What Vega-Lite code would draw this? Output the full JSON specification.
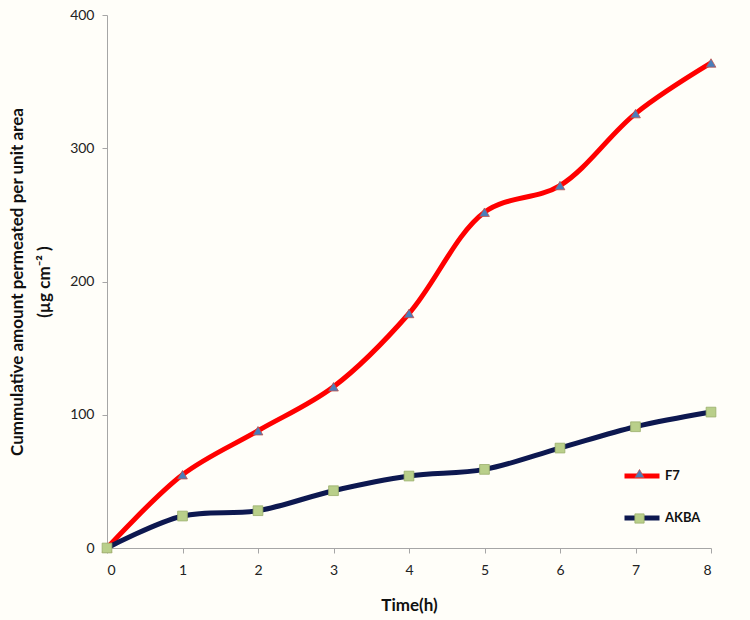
{
  "$schema": "https://vega.github.io/schema/vega-lite/v6.json",
  "width": 604,
  "height": 533,
  "autosize": {"type": "none"},
  "padding": {"left": 107, "top": 15, "right": 39, "bottom": 72},
  "background": "#fffef9",
  "config": {
    "view": {"stroke": null},
    "font": "Lato",
    "axis": {"grid": false, "domainColor": "#a6a6a6", "tickColor": "#a6a6a6", "labelColor": "#222222", "labelFontSize": 14, "titleFontSize": 17, "titleFontWeight": "bold", "titleColor": "#111111"}
  },
  "data": {
    "values": [
      {"time": 0, "value": 0, "series": "F7", "marker": "F7 marker"},
      {"time": 1, "value": 55, "series": "F7", "marker": "F7 marker"},
      {"time": 2, "value": 88, "series": "F7", "marker": "F7 marker"},
      {"time": 3, "value": 121, "series": "F7", "marker": "F7 marker"},
      {"time": 4, "value": 176, "series": "F7", "marker": "F7 marker"},
      {"time": 5, "value": 252, "series": "F7", "marker": "F7 marker"},
      {"time": 6, "value": 272, "series": "F7", "marker": "F7 marker"},
      {"time": 7, "value": 326, "series": "F7", "marker": "F7 marker"},
      {"time": 8, "value": 364, "series": "F7", "marker": "F7 marker"},
      {"time": 0, "value": 0, "series": "AKBA", "marker": "AKBA marker"},
      {"time": 1, "value": 24, "series": "AKBA", "marker": "AKBA marker"},
      {"time": 2, "value": 28, "series": "AKBA", "marker": "AKBA marker"},
      {"time": 3, "value": 43, "series": "AKBA", "marker": "AKBA marker"},
      {"time": 4, "value": 54, "series": "AKBA", "marker": "AKBA marker"},
      {"time": 5, "value": 59, "series": "AKBA", "marker": "AKBA marker"},
      {"time": 6, "value": 75, "series": "AKBA", "marker": "AKBA marker"},
      {"time": 7, "value": 91, "series": "AKBA", "marker": "AKBA marker"},
      {"time": 8, "value": 102, "series": "AKBA", "marker": "AKBA marker"}
    ]
  },
  "encoding": {
    "x": {"field": "time", "type": "quantitative", "scale": {"domain": [0, 8], "nice": false, "zero": true}, "axis": {"title": "Time(h)", "values": [0,1,2,3,4,5,6,7,8], "tickSize": 5, "labelPadding": 10, "titlePadding": 20}},
    "y": {"field": "value", "type": "quantitative", "scale": {"domain": [0, 400], "nice": false}, "axis": {"title": ["Cummulative amount permeated  per unit area", "(µg cm⁻² )"], "values": [0,100,200,300,400], "tickSize": 5, "labelPadding": 8, "titlePadding": 16, "titleLineHeight": 27}}
  },
  "layer": [
    {
      "mark": {"type": "line", "interpolate": "catmull-rom", "strokeWidth": 5},
      "encoding": {
        "color": {"field": "series", "type": "nominal", "scale": {"domain": ["F7", "AKBA"], "range": ["#ff0000", "#0d1850"]},
          "legend": {"title": null, "orient": "none", "legendX": 515, "legendY": 441, "symbolType": "stroke", "symbolStrokeWidth": 5, "symbolSize": 1225, "labelFontSize": 13, "labelFontWeight": "bold", "labelColor": "#111111", "rowPadding": 12, "labelOffset": 3}}
      }
    },
    {
      "mark": {"type": "point", "filled": true, "opacity": 1, "size": 95, "strokeWidth": 0.8},
      "encoding": {
        "shape": {"field": "marker", "type": "nominal", "scale": {"domain": ["F7 marker", "AKBA marker"], "range": ["triangle-up", "square"]},
          "legend": {"title": null, "orient": "none", "legendX": 527, "legendY": 453, "symbolSize": 85, "symbolOpacity": 1, "labelExpr": "''", "labelFontSize": 1, "rowPadding": 32, "labelOffset": 0, "symbolStrokeWidth": 0.8}},
        "fill": {"field": "marker", "type": "nominal", "scale": {"domain": ["F7 marker", "AKBA marker"], "range": ["#4a7ebb", "#b9cf8a"]}},
        "stroke": {"field": "marker", "type": "nominal", "scale": {"domain": ["F7 marker", "AKBA marker"], "range": ["#c0504d", "#9aae6c"]}}
      }
    }
  ]
}
